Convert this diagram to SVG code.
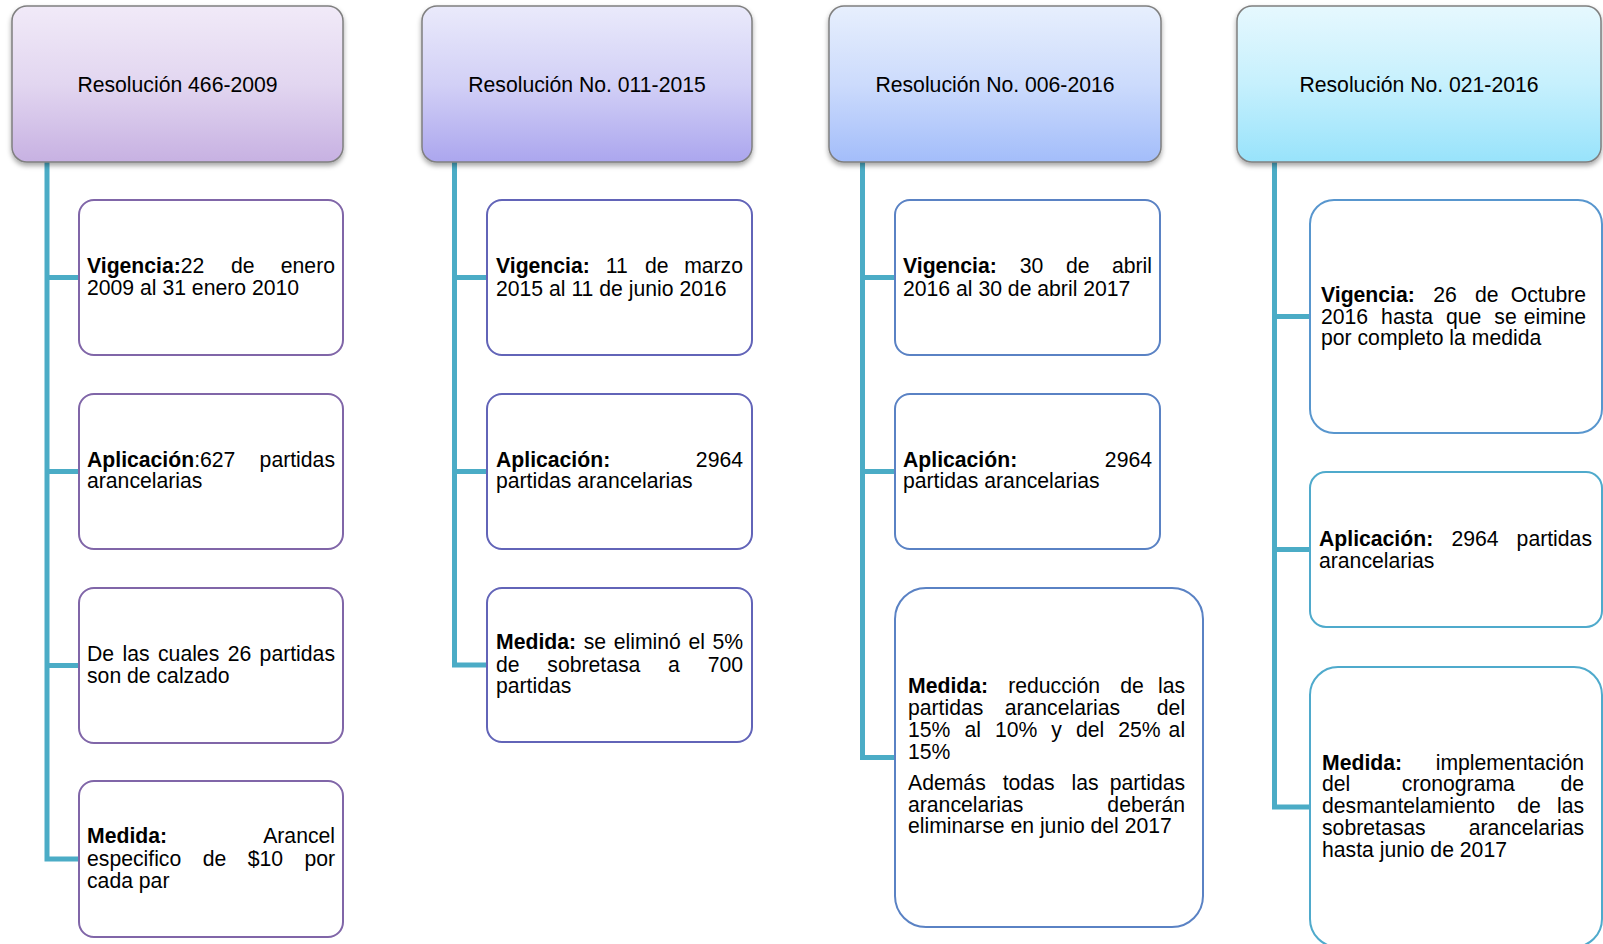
<svg xmlns="http://www.w3.org/2000/svg" width="1603" height="944" viewBox="0 0 1603 944">
<defs>
<linearGradient id="g1" x1="0" y1="0" x2="0" y2="1"><stop offset="0" stop-color="#F1EAF8"/><stop offset="0.5" stop-color="#E2D6F0"/><stop offset="1" stop-color="#C7B1E2"/></linearGradient>
<linearGradient id="g2" x1="0" y1="0" x2="0" y2="1"><stop offset="0" stop-color="#EAEAFB"/><stop offset="0.5" stop-color="#D2D0F6"/><stop offset="1" stop-color="#ABA6EE"/></linearGradient>
<linearGradient id="g3" x1="0" y1="0" x2="0" y2="1"><stop offset="0" stop-color="#E7EFFD"/><stop offset="0.5" stop-color="#CCDBFC"/><stop offset="1" stop-color="#A3BDFA"/></linearGradient>
<linearGradient id="g4" x1="0" y1="0" x2="0" y2="1"><stop offset="0" stop-color="#E6F8FE"/><stop offset="0.5" stop-color="#C6F0FD"/><stop offset="1" stop-color="#98E3FB"/></linearGradient>
<filter id="sh" x="-10%" y="-10%" width="120%" height="130%"><feDropShadow dx="0" dy="3" stdDeviation="2.5" flood-color="#000" flood-opacity="0.35"/></filter>
</defs>
<style>
text{font-family:"Liberation Sans",Arial,sans-serif;font-size:21.2px;fill:#000}
.b{font-weight:bold}
.e{text-anchor:end}
.hdr{stroke:#7F7F7F;stroke-width:1.5;filter:url(#sh)}
.hd{text-anchor:middle}
.c1{fill:#fff;stroke:#8066A8;stroke-width:2}
.c2{fill:#fff;stroke:#6264B8;stroke-width:2}
.c3{fill:#fff;stroke:#5A82C4;stroke-width:2}
.c4a{fill:#fff;stroke:#5896CE;stroke-width:2}
.c4b{fill:#fff;stroke:#4FAACC;stroke-width:2}
.con{fill:none;stroke:#4BACC6;stroke-width:5}
</style>
<g id="connectors">
<path class="con" d="M47 162 V859 H79 M47 277.5 H79 M47 471.5 H79 M47 665.5 H79"/>
<path class="con" d="M454.5 162 V665 H487 M454.5 277.5 H487 M454.5 471.5 H487"/>
<path class="con" d="M862.5 162 V757.5 H895 M862.5 277.5 H895 M862.5 471.5 H895"/>
<path class="con" d="M1274.5 162 V807 H1310 M1274.5 316.5 H1310 M1274.5 549.5 H1310"/>
</g>
<g id="h1"><rect class="hdr" x="12" y="6" width="331" height="156" rx="15" fill="url(#g1)"/><text class="hd" x="177.5" y="91.7">Resolución 466-2009</text></g>
<g id="h2"><rect class="hdr" x="422" y="6" width="330" height="156" rx="15" fill="url(#g2)"/><text class="hd" x="587" y="91.7">Resolución No. 011-2015</text></g>
<g id="h3"><rect class="hdr" x="829" y="6" width="332" height="156" rx="15" fill="url(#g3)"/><text class="hd" x="995" y="91.7">Resolución No. 006-2016</text></g>
<g id="h4"><rect class="hdr" x="1237" y="6" width="364" height="156" rx="15" fill="url(#g4)"/><text class="hd" x="1419" y="91.7">Resolución No. 021-2016</text></g>

<g id="n1a"><rect class="c1" x="79" y="200" width="264" height="155" rx="15"/>
<text><tspan x="87" y="273.3"><tspan class="b">Vigencia:</tspan>22</tspan><tspan x="231" y="273.3">de</tspan><tspan class="e" x="335" y="273.3">enero</tspan><tspan x="87" y="295">2009 al 31 enero 2010</tspan></text></g>
<g id="n1b"><rect class="c1" x="79" y="394" width="264" height="155" rx="15"/>
<text><tspan x="87" y="466.7"><tspan class="b">Aplicación</tspan>:627</tspan><tspan class="e" x="335" y="466.7">partidas</tspan><tspan x="87" y="488.3">arancelarias</tspan></text></g>
<g id="n1c"><rect class="c1" x="79" y="588" width="264" height="155" rx="15"/>
<text><tspan x="87" y="660.7">De</tspan><tspan x="122.5" y="660.7">las</tspan><tspan x="158" y="660.7">cuales</tspan><tspan x="227.7" y="660.7">26</tspan><tspan class="e" x="335" y="660.7">partidas</tspan><tspan x="87" y="682.7">son de calzado</tspan></text></g>
<g id="n1d"><rect class="c1" x="79" y="781" width="264" height="156" rx="15"/>
<text><tspan class="b" x="87" y="843.3">Medida:</tspan><tspan class="e" x="335" y="843.3">Arancel</tspan><tspan x="87" y="865.5">especifico</tspan><tspan x="202.7" y="865.5">de</tspan><tspan x="247.7" y="865.5">$10</tspan><tspan class="e" x="335" y="865.5">por</tspan><tspan x="87" y="887.5">cada par</tspan></text></g>

<g id="n2a"><rect class="c2" x="487" y="200" width="265" height="155" rx="15"/>
<text><tspan class="b" x="496" y="273.3">Vigencia:</tspan><tspan x="605.8" y="273.3">11</tspan><tspan x="644.9" y="273.3">de</tspan><tspan class="e" x="743" y="273.3">marzo</tspan><tspan x="496" y="295.5">2015 al 11 de junio 2016</tspan></text></g>
<g id="n2b"><rect class="c2" x="487" y="394" width="265" height="155" rx="15"/>
<text><tspan class="b" x="496" y="466.7">Aplicación:</tspan><tspan class="e" x="743" y="466.7">2964</tspan><tspan x="496" y="488.3">partidas arancelarias</tspan></text></g>
<g id="n2c"><rect class="c2" x="487" y="588" width="265" height="154" rx="15"/>
<text><tspan class="b" x="496" y="649.3">Medida:</tspan><tspan x="583.7" y="649.3">se</tspan><tspan x="613.7" y="649.3">eliminó</tspan><tspan x="688.4" y="649.3">el</tspan><tspan class="e" x="743" y="649.3">5%</tspan><tspan x="496" y="671.5">de</tspan><tspan x="547.3" y="671.5">sobretasa</tspan><tspan x="668.1" y="671.5">a</tspan><tspan class="e" x="743" y="671.5">700</tspan><tspan x="496" y="693.3">partidas</tspan></text></g>

<g id="n3a"><rect class="c3" x="895" y="200" width="265" height="155" rx="15"/>
<text><tspan class="b" x="903" y="273.3">Vigencia:</tspan><tspan x="1019.8" y="273.3">30</tspan><tspan x="1065.9" y="273.3">de</tspan><tspan class="e" x="1152" y="273.3">abril</tspan><tspan x="903" y="295.5">2016 al 30 de abril 2017</tspan></text></g>
<g id="n3b"><rect class="c3" x="895" y="394" width="265" height="155" rx="15"/>
<text><tspan class="b" x="903" y="466.7">Aplicación:</tspan><tspan class="e" x="1152" y="466.7">2964</tspan><tspan x="903" y="488.3">partidas arancelarias</tspan></text></g>
<g id="n3c"><rect class="c3" x="895" y="588" width="308" height="339" rx="31"/>
<text><tspan class="b" x="908" y="693.3">Medida:</tspan><tspan x="1008.2" y="693.3">reducción</tspan><tspan x="1120.2" y="693.3">de</tspan><tspan class="e" x="1191" y="693.3">las</tspan>
<tspan x="908" y="715">partidas</tspan><tspan x="1004.7" y="715">arancelarias</tspan><tspan class="e" x="1191" y="715">del</tspan>
<tspan x="908" y="737">15%</tspan><tspan x="964.4" y="737">al</tspan><tspan x="994.9" y="737">10%</tspan><tspan x="1051.3" y="737">y</tspan><tspan x="1075.9" y="737">del</tspan><tspan x="1118.2" y="737">25%</tspan><tspan class="e" x="1191" y="737">al</tspan>
<tspan x="908" y="759">15%</tspan>
<tspan x="908" y="790">Además</tspan><tspan x="1002.7" y="790">todas</tspan><tspan x="1071.5" y="790">las</tspan><tspan class="e" x="1191" y="790">partidas</tspan>
<tspan x="908" y="811.7">arancelarias</tspan><tspan class="e" x="1191" y="811.7">deberán</tspan>
<tspan x="908" y="833.3">eliminarse en junio del 2017</tspan></text></g>

<g id="n4a"><rect class="c4a" x="1310" y="200" width="292" height="233" rx="24"/>
<text><tspan class="b" x="1321" y="301.7">Vigencia:</tspan><tspan x="1433.3" y="301.7">26</tspan><tspan x="1474.9" y="301.7">de</tspan><tspan class="e" x="1592" y="301.7">Octubre</tspan>
<tspan x="1321" y="323.5">2016</tspan><tspan x="1381.1" y="323.5">hasta</tspan><tspan x="1445.9" y="323.5">que</tspan><tspan x="1494.3" y="323.5">se</tspan><tspan class="e" x="1592" y="323.5">eimine</tspan>
<tspan x="1321" y="345.3">por completo la medida</tspan></text></g>
<g id="n4b"><rect class="c4b" x="1310" y="472" width="292" height="155" rx="16"/>
<text><tspan class="b" x="1319" y="546">Aplicación:</tspan><tspan x="1451.4" y="546">2964</tspan><tspan class="e" x="1592" y="546">partidas</tspan><tspan x="1319" y="567.5">arancelarias</tspan></text></g>
<g id="n4c"><rect class="c4b" x="1310" y="667" width="292" height="280" rx="28"/>
<text><tspan class="b" x="1322" y="769.5">Medida:</tspan><tspan class="e" x="1590" y="769.5">implementación</tspan>
<tspan x="1322" y="791.3">del</tspan><tspan x="1401.8" y="791.3">cronograma</tspan><tspan class="e" x="1590" y="791.3">de</tspan>
<tspan x="1322" y="813">desmantelamiento</tspan><tspan x="1517.3" y="813">de</tspan><tspan class="e" x="1590" y="813">las</tspan>
<tspan x="1322" y="834.8">sobretasas</tspan><tspan class="e" x="1590" y="834.8">arancelarias</tspan>
<tspan x="1322" y="856.6">hasta junio de 2017</tspan></text></g>
</svg>
